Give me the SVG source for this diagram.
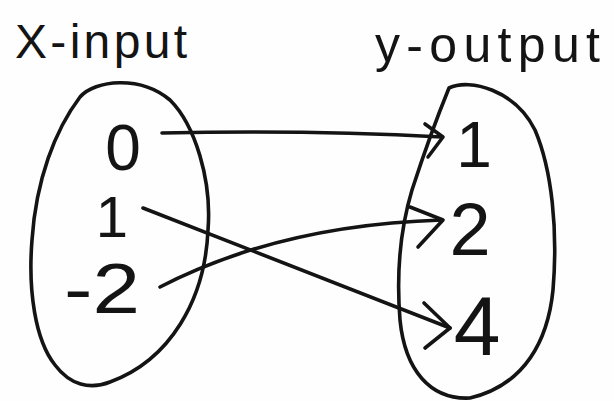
<svg xmlns="http://www.w3.org/2000/svg" width="614" height="401" viewBox="0 0 614 401">
<defs>
<style>
.pen{fill:none;stroke:#141414;stroke-width:3.6;stroke-linecap:round;stroke-linejoin:round}
.t{font-family:"Liberation Sans","DejaVu Sans",sans-serif;fill:#141414}
</style>
</defs>
<rect x="0" y="0" width="614" height="401" fill="#fefefe"/>
<g id="label-x">
<text class="t" x="15" y="58" font-size="48" textLength="172" lengthAdjust="spacing">X-input</text>
</g>
<g id="label-y">
<text class="t" x="375" y="62" font-size="50" textLength="225" lengthAdjust="spacing">y-output</text>
</g>
<g id="set-x">
<path class="pen" d="M80,97 C95,80 140,75 170,100 C195,125 212,180 208,230 C205,300 170,360 110,382 C90,390 70,385 55,365 C35,340 28,290 32,240 C36,180 55,130 80,97 Z"/>
<text class="t" x="123" y="170" font-size="64" text-anchor="middle">0</text>
<text class="t" x="112" y="237" font-size="58" text-anchor="middle">1</text>
<text class="t" x="64" y="313" font-size="70" textLength="76" lengthAdjust="spacingAndGlyphs">-2</text>
</g>
<g id="set-y">
<path class="pen" d="M449,88 C470,78 515,90 535,130 C552,170 558,230 553,290 C548,340 525,385 470,398 C430,400 405,370 400,320 C396,270 400,230 412,190 C425,150 440,110 449,88 Z"/>
<text class="t" x="474" y="167" font-size="64" text-anchor="middle">1</text>
<text class="t" x="470" y="255" font-size="74" text-anchor="middle">2</text>
<text class="t" x="477" y="355" font-size="84" text-anchor="middle">4</text>
</g>
<g id="connectors">
<path class="pen" d="M162,133 C250,131 350,132 442,137"/>
<path class="pen" d="M425,124 L443,137 L428,157"/>
<path class="pen" d="M143,208 Q300,270 450,328"/>
<path class="pen" d="M424,303 L450,328 L425,348"/>
<path class="pen" d="M160,287 Q280,225 442,220"/>
<path class="pen" d="M410,207 L443,220 L418,247"/>
</g>
</svg>
